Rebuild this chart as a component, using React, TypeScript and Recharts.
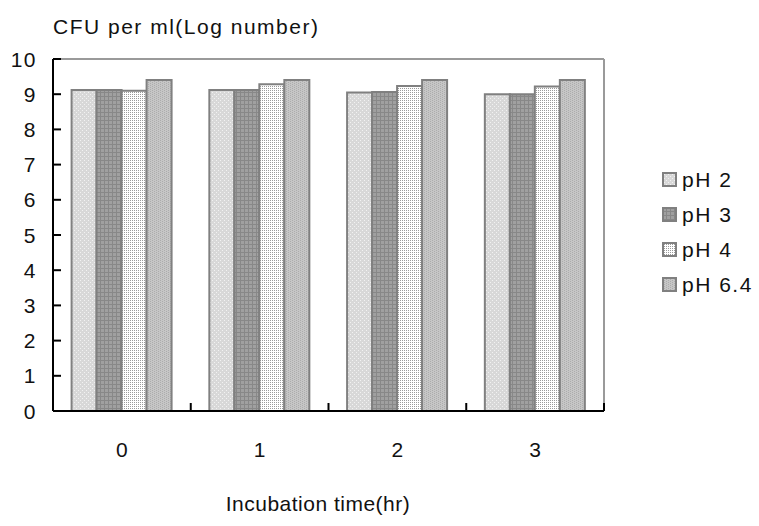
import React from "react";
import { BarChart, Bar, XAxis, YAxis } from "recharts";

const times = ["0", "1", "2", "3"];
const seriesNames = ["pH 2", "pH 3", "pH 4", "pH 6.4"];
const ph2 = [9.12, 9.12, 9.05, 9.0];
const ph3 = [9.12, 9.12, 9.06, 9.0];
const ph4 = [9.1, 9.28, 9.23, 9.22];
const ph64 = [9.4, 9.4, 9.4, 9.4];
const yTicks = [0, 1, 2, 3, 4, 5, 6, 7, 8, 9, 10];
const titleText = "CFU per ml(Log number)";
const xTitle = "Incubation time(hr)";

const data = times.map((t, i) => ({ time: t, s0: ph2[i], s1: ph3[i], s2: ph4[i], s3: ph64[i] }));

const W = 759;
const H = 526;
const margin = { top: 49, right: 145, left: 13, bottom: 75 };
const plotLeft = 53;
const plotRight = 604;
const band = (plotRight - plotLeft) / times.length;
const FONT = "'Liberation Sans', Arial, sans-serif";
const FS = 21;
const LS = 1.5;
const patIds = ["pat0", "pat1", "pat2", "pat3"];

const YTick = (props: any) => {
  const { x, y, payload } = props;
  return (
    <g>
      <line x1={x} y1={y} x2={x + 8} y2={y} stroke="#000" strokeWidth={2} />
      <text x={x - 16} y={y} dy="0.36em" textAnchor="end" fontSize={FS} fontFamily={FONT} letterSpacing={LS} fill="#111">
        {payload.value}
      </text>
    </g>
  );
};

const XTick = (props: any) => {
  const { x, y, payload } = props;
  return (
    <g>
      <line x1={x + band / 2} y1={y} x2={x + band / 2} y2={y - 8} stroke="#000" strokeWidth={2} />
      <text x={x} y={y + 46} textAnchor="middle" fontSize={FS} fontFamily={FONT} fill="#111">
        {payload.value}
      </text>
    </g>
  );
};

const Swatch = ({ id }: { id: string }) => (
  <svg width={15} height={15} style={{ display: "block" }}>
    <rect x={1} y={1} width={13} height={13} fill={`url(#${id})`} stroke="#808080" strokeWidth={2} />
  </svg>
);

export default function App() {
  return (
    <div style={{ position: "absolute", left: 0, top: 0, width: W, height: H, background: "#fff" }}>
      <BarChart width={W} height={H} data={data} margin={margin} barCategoryGap="13.5%" barGap={0}>
        <defs>
          <pattern id="pat0" width={4} height={4} patternUnits="userSpaceOnUse">
            <rect width={4} height={4} fill="#d8d8d8" />
            <rect x={0} y={0} width={1} height={1} fill="#f2f2f2" />
            <rect x={2} y={2} width={1} height={1} fill="#f2f2f2" />
          </pattern>
          <pattern id="pat1" width={4} height={4} patternUnits="userSpaceOnUse">
            <rect width={4} height={4} fill="#a0a0a0" />
            <rect x={0} y={0} width={4} height={1} fill="#888888" />
            <rect x={0} y={0} width={1} height={4} fill="#888888" />
          </pattern>
          <pattern id="pat2" width={2} height={2} patternUnits="userSpaceOnUse">
            <rect width={2} height={2} fill="#ffffff" />
            <rect x={0} y={0} width={1} height={1} fill="#9a9a9a" />
          </pattern>
          <pattern id="pat3" width={4} height={4} patternUnits="userSpaceOnUse">
            <rect width={4} height={4} fill="#c6c6c6" />
            <rect x={0} y={0} width={1} height={1} fill="#acacac" />
            <rect x={2} y={1} width={1} height={1} fill="#acacac" />
            <rect x={0} y={2} width={1} height={1} fill="#acacac" />
            <rect x={2} y={3} width={1} height={1} fill="#acacac" />
          </pattern>
        </defs>
        <XAxis xAxisId="t" orientation="top" dataKey="time" height={10} tick={false} tickLine={false} axisLine={{ stroke: "#9a9a9a", strokeWidth: 2 }} />
        <YAxis yAxisId="r" orientation="right" width={10} domain={[0, 10]} ticks={yTicks} tick={false} tickLine={false} axisLine={{ stroke: "#9a9a9a", strokeWidth: 2 }} />
        <XAxis xAxisId="b" dataKey="time" height={40} tickLine={false} tickSize={0} tickMargin={0} tick={<XTick />} axisLine={{ stroke: "#000", strokeWidth: 2 }} interval={0} />
        <YAxis yAxisId="l" width={40} domain={[0, 10]} ticks={yTicks} interval={0} tickLine={false} tickSize={0} tickMargin={0} tick={<YTick />} axisLine={{ stroke: "#000", strokeWidth: 2 }} />
        {["s0", "s1", "s2", "s3"].map((k, i) => (
          <Bar key={k} dataKey={k} name={seriesNames[i]} xAxisId="b" yAxisId="l" fill={`url(#${patIds[i]})`} stroke="#808080" strokeWidth={2} isAnimationActive={false} />
        ))}
      </BarChart>
      <div style={{ position: "absolute", left: 53, top: 15, fontFamily: FONT, fontSize: FS, letterSpacing: LS, color: "#111", whiteSpace: "nowrap" }}>
        {titleText}
      </div>
      <div style={{ position: "absolute", left: 0, width: 636, textAlign: "center", top: 492, fontFamily: FONT, fontSize: FS, letterSpacing: 0.5, color: "#111", whiteSpace: "nowrap" }}>
        {xTitle}
      </div>
      <div style={{ position: "absolute", left: 662, top: 162 }}>
        {seriesNames.map((n, i) => (
          <div key={n} style={{ display: "flex", alignItems: "center", height: 35, fontFamily: FONT, fontSize: FS, letterSpacing: LS, color: "#111", whiteSpace: "nowrap" }}>
            <Swatch id={patIds[i]} />
            <span style={{ marginLeft: 5 }}>{n}</span>
          </div>
        ))}
      </div>
    </div>
  );
}
